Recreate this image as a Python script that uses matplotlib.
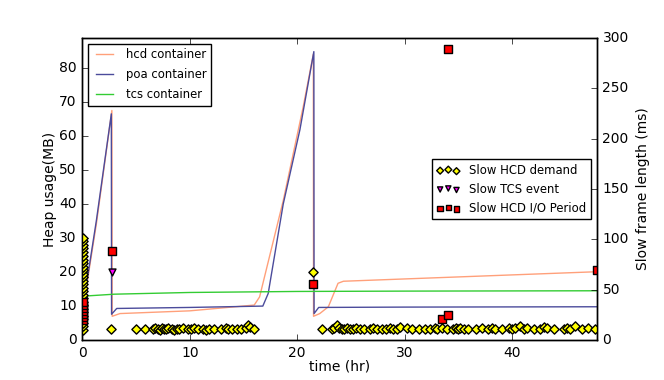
import numpy as np
import matplotlib
matplotlib.use('Agg')
import matplotlib.pyplot as plt

plt.style.use('classic')

# heap usage per container (hr, MB)
hcd_t = [0.0, 0.2, 1.3, 2.75, 2.78, 3.5, 10.0, 16.0, 16.5, 18.7, 20.56, 21.5, 21.52, 22.1, 22.9, 23.8, 24.3, 47.9]
hcd_mb = [5.0, 12.0, 34.0, 67.5, 7.0, 7.8, 8.6, 10.3, 12.7, 41.0, 68.6, 84.0, 7.0, 7.8, 9.8, 16.7, 17.3, 20.1]

poa_t = [0.0, 0.2, 1.3, 2.7, 2.72, 3.2, 10.0, 16.8, 17.3, 18.7, 20.25, 21.55, 21.57, 22.0, 30.0, 47.9]
poa_mb = [6.0, 12.7, 35.0, 66.5, 7.6, 9.3, 9.6, 10.0, 13.7, 40.0, 61.8, 84.8, 7.8, 9.6, 9.7, 9.8]

tcs_t = [0.15, 0.3, 0.5, 3.0, 10.0, 20.0, 30.0, 47.9]
tcs_mb = [10.5, 12.5, 13.0, 13.5, 14.0, 14.3, 14.4, 14.5]

# slow HCD demand frames (hr, ms)
demand_t = [0.05, 0.05, 0.05, 0.05, 0.05, 0.05, 0.05, 0.05, 0.05, 0.05, 0.05, 0.05, 0.05, 0.05,
            0.05, 0.05, 0.05, 0.05, 0.05, 0.05, 0.05, 0.05, 0.05, 0.05, 0.05, 0.05, 0.05,
            2.65, 21.5,
            5.0, 5.8, 6.6, 6.8, 7.0, 7.2, 7.4, 7.6, 7.8, 8.0, 8.3, 8.5, 8.8, 9.0, 9.4, 9.8,
            10.1, 10.4, 10.8, 11.2, 11.5, 11.8, 12.3, 12.9, 13.4, 13.6, 13.9, 14.4, 14.8,
            15.2, 15.4, 15.6, 16.0,
            22.3, 23.2, 23.4, 23.7, 23.9, 24.2, 24.4, 24.6, 24.9, 25.2, 25.5, 25.8, 26.2,
            26.8, 27.1, 27.4, 27.9, 28.3, 28.6, 28.9, 29.3, 29.6, 30.2, 30.7, 31.3, 31.9,
            32.4, 32.8, 33.0, 33.5, 33.9, 34.5, 34.8, 35.0, 35.2, 35.5, 35.9, 36.6, 37.2,
            37.8, 38.1, 38.4, 39.05, 39.7, 40.0, 40.3, 40.75, 41.1, 41.4, 42.0, 42.6, 43.0,
            43.25, 43.9, 44.8, 45.1, 45.4, 45.9, 46.5, 47.1, 47.7]
demand_ms = [10, 14, 17, 21, 24, 28, 31, 35, 38, 42, 45, 49, 52, 56,
             59, 63, 66, 70, 73, 77, 80, 84, 87, 91, 94, 98, 101,
             11, 68,
             11, 11, 11, 12, 11, 10, 12, 11, 11, 12, 11, 10, 11, 11, 12, 11,
             11, 12, 11, 11, 10, 11, 11, 11, 12, 11, 11, 11, 11,
             12, 15, 13, 11,
             11, 11, 12, 15, 12, 11, 11, 12, 11, 11, 12, 11, 11,
             11, 12, 11, 11, 11, 12, 11, 11, 13, 12, 11, 11, 11,
             11, 12, 11, 12, 11, 11, 12, 11, 12, 11, 11, 11, 12,
             11, 12, 11, 11, 12, 11, 12, 14, 11, 12, 11, 11, 13,
             12, 11, 11, 12, 11, 14, 11, 12, 11]

# slow TCS events
tcs_ev_t = [2.75]
tcs_ev_ms = [67.5]

# slow HCD I/O periods
io_t = [0.05, 0.05, 0.05, 0.05, 0.05, 0.05, 0.05, 2.75, 21.5, 33.5, 34.0, 34.0, 47.9]
io_ms = [20, 23, 26, 29, 32, 35, 38, 88, 56, 21, 24.7, 289, 70]

fig, ax = plt.subplots(figsize=(6.64, 3.8), dpi=100)
fig.subplots_adjust(left=0.124, right=0.899, bottom=0.105, top=0.9)
fig.patch.set_facecolor('white')

ax.plot(hcd_t, hcd_mb, color='#FFA07A', lw=1, label='hcd container')
ax.plot(poa_t, poa_mb, color='#4B4B9B', lw=1, label='poa container')
ax.plot(tcs_t, tcs_mb, color='#33CC33', lw=1, label='tcs container')
ax.set_xlim(0, 47.9)
ax.set_ylim(0, 88.8)
ax.set_yticks([0, 10, 20, 30, 40, 50, 60, 70, 80])
ax.set_xlabel('time (hr)', fontsize=10, labelpad=0)
ax.set_ylabel('Heap usage(MB)', fontsize=10, labelpad=1.5)
ax.tick_params(labelsize=10)
ax.legend(loc='upper left', fontsize=8.4, labelspacing=0.6)

ax2 = ax.twinx()
ax2.scatter(demand_t, demand_ms, marker='D', s=22, c='yellow', edgecolors='black',
            lw=1, label='Slow HCD demand')
ax2.scatter(tcs_ev_t, tcs_ev_ms, marker='v', s=25, c='magenta', edgecolors='black',
            lw=1, label='Slow TCS event')
ax2.scatter(io_t, io_ms, marker='s', s=28, c='red', edgecolors='black',
            lw=1, label='Slow HCD I/O Period')
ax2.set_xlim(0, 47.9)
ax2.set_ylim(0, 300)
ax2.set_ylabel('Slow frame length (ms)', fontsize=10)
ax2.tick_params(labelsize=10)
ax2.legend(loc='center right', fontsize=8.4, markerscale=0.75, handlelength=2.0)

fig.savefig('out.png', dpi=100, facecolor='white')
